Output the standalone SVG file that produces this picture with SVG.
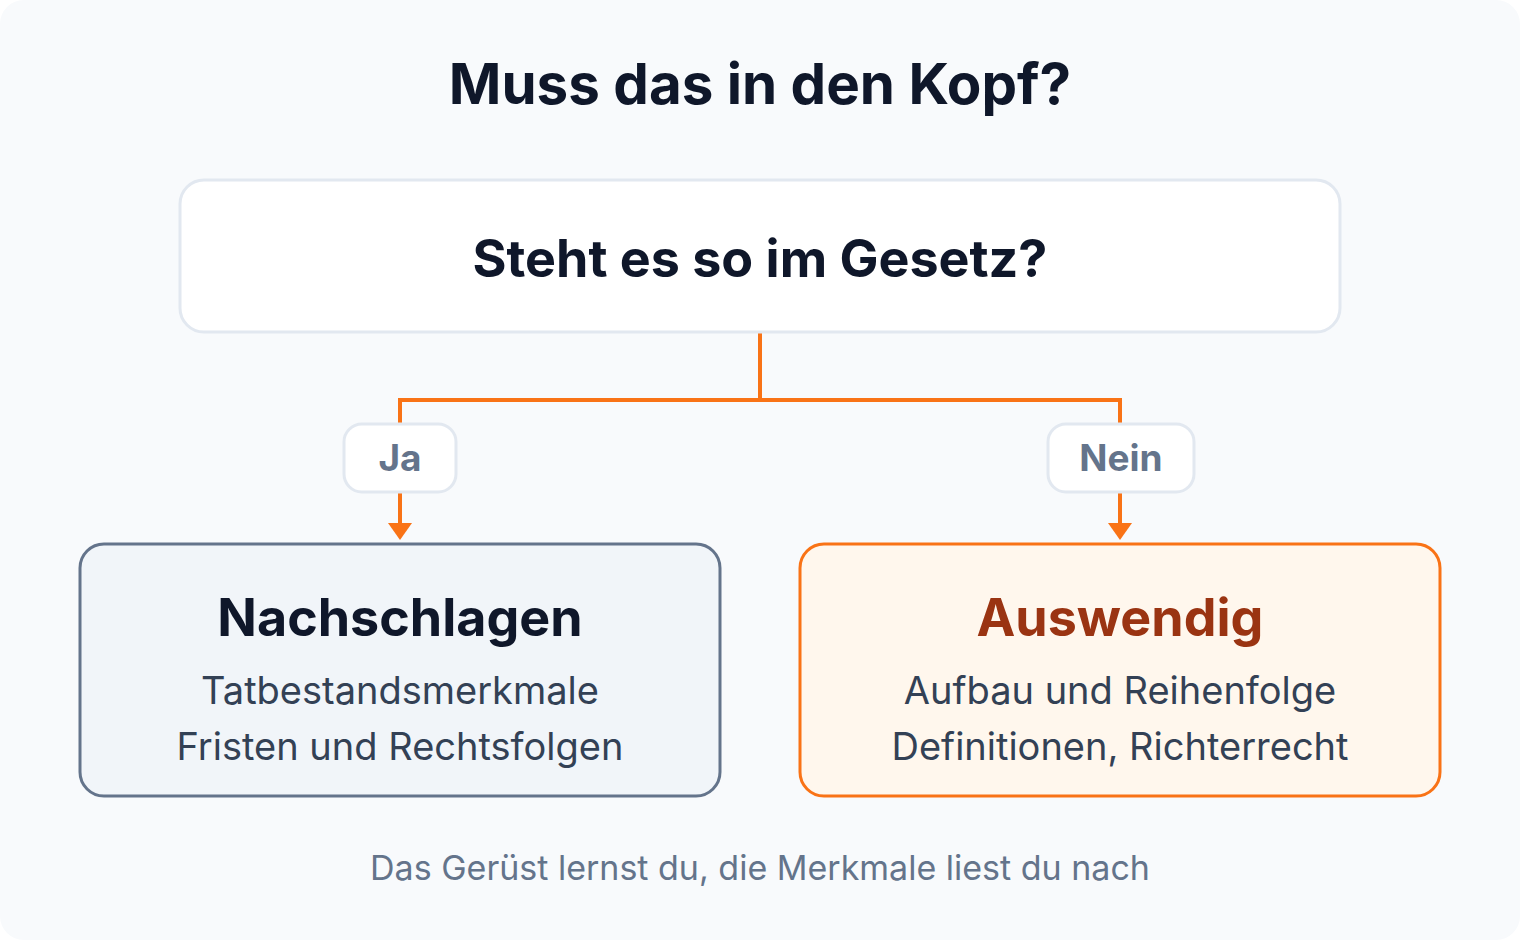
<svg xmlns="http://www.w3.org/2000/svg" width="1520" height="940" viewBox="0 0 1520 940">
<defs>
<style>
.t{font-family:Inter,"Noto Sans","Liberation Sans",sans-serif;text-anchor:middle}
.title{font-size:56.5px;font-weight:700;fill:#0f172a}
.q{font-size:52px;font-weight:700;fill:#0f172a}
.lbl{font-size:37px;font-weight:700;fill:#64748b}
.h{font-size:52px;font-weight:700}
.sub{font-size:38px;font-weight:400;fill:#334155}
.foot{font-size:34px;font-weight:400;fill:#64748b}
.conn{fill:none;stroke:#f97316;stroke-width:4}
.head{fill:#f97316}
.lbox{fill:#ffffff;stroke:#e2e8f0;stroke-width:3}
</style>
</defs>
<rect x="0" y="0" width="1520" height="940" rx="24" fill="#f8fafc"/>
<text class="t title" x="760" y="104">Muss das in den Kopf?</text>
<g id="connectors">
<path class="conn" d="M760,332 V400 H400 V424"/>
<path class="conn" d="M760,400 H1120 V424"/>
<path class="conn" d="M400,492 V525"/>
<path class="conn" d="M1120,492 V525"/>
<polygon class="head" points="388,523 412,523 400,540"/>
<polygon class="head" points="1108,523 1132,523 1120,540"/>
</g>
<g id="question">
<rect x="180" y="180" width="1160" height="152" rx="24" fill="#ffffff" stroke="#e2e8f0" stroke-width="3"/>
<text class="t q" x="760" y="277">Steht es so im Gesetz?</text>
</g>
<g id="label-ja">
<rect class="lbox" x="344" y="424" width="112" height="68" rx="18"/>
<text class="t lbl" x="400" y="471">Ja</text>
</g>
<g id="label-nein">
<rect class="lbox" x="1048" y="424" width="146" height="68" rx="18"/>
<text class="t lbl" x="1121" y="471">Nein</text>
</g>
<g id="node-nachschlagen">
<rect x="80" y="544" width="640" height="252" rx="24" fill="#f1f5f9" stroke="#64748b" stroke-width="3"/>
<text class="t h" x="400" y="636" fill="#0f172a">Nachschlagen</text>
<text class="t sub" x="400" y="704">Tatbestandsmerkmale</text>
<text class="t sub" x="400" y="760">Fristen und Rechtsfolgen</text>
</g>
<g id="node-auswendig">
<rect x="800" y="544" width="640" height="252" rx="24" fill="#fff7ed" stroke="#f97316" stroke-width="3"/>
<text class="t h" x="1120" y="636" fill="#9a3412">Auswendig</text>
<text class="t sub" x="1120" y="704">Aufbau und Reihenfolge</text>
<text class="t sub" x="1120" y="760">Definitionen, Richterrecht</text>
</g>
<text class="t foot" x="760" y="880">Das Gerüst lernst du, die Merkmale liest du nach</text>
</svg>
